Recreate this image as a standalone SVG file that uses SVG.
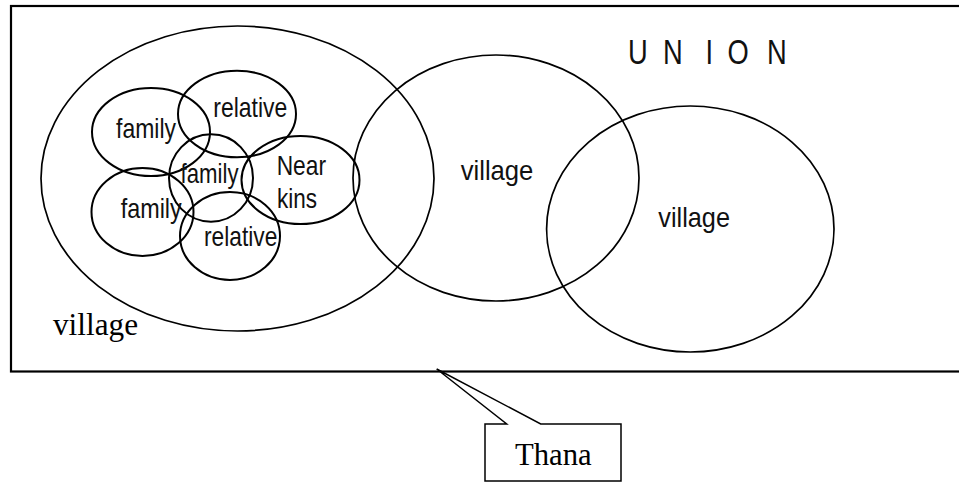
<svg xmlns="http://www.w3.org/2000/svg" width="959" height="483" viewBox="0 0 959 483">
  <style>
    .frame { fill: none; stroke: #000; stroke-width: 2.2; }
    .big { fill: none; stroke: #000; stroke-width: 1.7; }
    .small { fill: none; stroke: #000; stroke-width: 2; }
    .narrow { font-family: "Liberation Sans Narrow", "Liberation Sans", Arial, sans-serif; font-size: 28px; fill: #111; }
    .title { font-size: 35px; }
    .serif { font-family: "Liberation Serif", "Times New Roman", serif; font-size: 31px; fill: #000; }
    .callout { fill: #fff; stroke: #000; stroke-width: 1.5; stroke-linejoin: miter; }
  </style>

  <!-- Thana frame (runs off the right edge) -->
  <g id="thana-frame">
    <rect class="frame" x="11" y="6" width="960" height="365.5"/>
  </g>

  <!-- Union label -->
  <g id="union">
    <text class="narrow title" transform="translate(628,64) scale(0.78,1)"><tspan x="0">U</tspan> <tspan x="44.9">N</tspan> <tspan x="99.4">I</tspan> <tspan x="127.6">O</tspan> <tspan x="178.2">N</tspan></text>
  </g>

  <!-- Home village with its families and kin groups -->
  <g id="village-home">
    <ellipse class="big" cx="237.5" cy="178.5" rx="196.5" ry="152.5"/>
    <text class="serif" x="53" y="335" textLength="85" lengthAdjust="spacingAndGlyphs">village</text>
  </g>

  <g id="family-1">
    <ellipse class="small" cx="151" cy="132" rx="59" ry="44"/>
    <text class="narrow" x="116" y="138" textLength="60" lengthAdjust="spacingAndGlyphs">family</text>
  </g>

  <g id="relative-1">
    <ellipse class="small" cx="237" cy="114" rx="59" ry="43.3"/>
    <text class="narrow" x="213.3" y="117.3" textLength="74" lengthAdjust="spacingAndGlyphs">relative</text>
  </g>

  <g id="family-2">
    <ellipse class="small" cx="211" cy="178" rx="42" ry="43.7"/>
    <text class="narrow" x="180.5" y="182.5" textLength="58" lengthAdjust="spacingAndGlyphs">family</text>
  </g>

  <g id="near-kins">
    <ellipse class="small" cx="300.5" cy="180" rx="59" ry="44"/>
    <text class="narrow" x="276.7" y="175" textLength="49.3" lengthAdjust="spacingAndGlyphs">Near</text>
    <text class="narrow" x="277" y="208.3" textLength="40" lengthAdjust="spacingAndGlyphs">kins</text>
  </g>

  <g id="family-3">
    <ellipse class="small" cx="142.5" cy="212" rx="51" ry="44"/>
    <text class="narrow" x="120.7" y="218.3" textLength="61" lengthAdjust="spacingAndGlyphs">family</text>
  </g>

  <g id="relative-2">
    <ellipse class="small" cx="230" cy="236" rx="50" ry="44"/>
    <text class="narrow" x="204" y="246" textLength="73.3" lengthAdjust="spacingAndGlyphs">relative</text>
  </g>

  <!-- Neighbouring villages -->
  <g id="village-middle">
    <ellipse class="big" cx="496" cy="178" rx="143" ry="123"/>
    <text class="narrow" x="460.7" y="180" textLength="72.7" lengthAdjust="spacingAndGlyphs">village</text>
  </g>

  <g id="village-right">
    <ellipse class="big" cx="690.3" cy="229" rx="143.7" ry="123"/>
    <text class="narrow" x="658.3" y="227.3" textLength="71.7" lengthAdjust="spacingAndGlyphs">village</text>
  </g>

  <!-- Callout pointing at the frame -->
  <g id="connectors">
    <path class="callout" d="M485,424 L506.7,424 L436.7,369 L540.7,424 L621,424 L621,481 L485,481 Z"/>
  </g>
  <g id="thana-label">
    <text class="serif" x="515" y="465" textLength="76.7" lengthAdjust="spacingAndGlyphs">Thana</text>
  </g>
</svg>
